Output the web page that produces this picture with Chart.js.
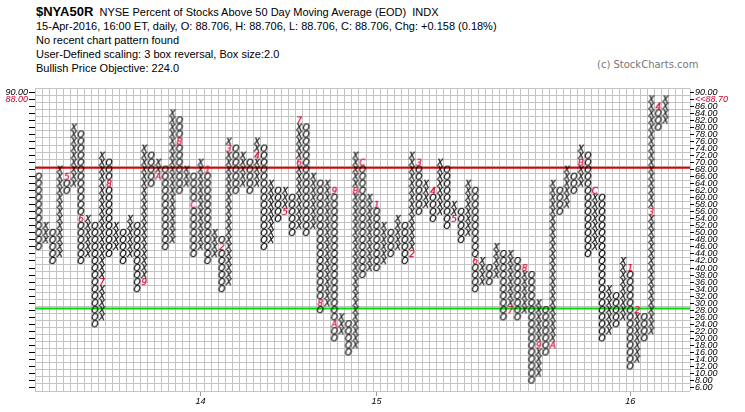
<!DOCTYPE html>
<html>
<head>
<meta charset="utf-8">
<script src="https://cdn.jsdelivr.net/npm/chart.js@4.4.1/dist/chart.umd.min.js"></script>
<style>
  html, body { margin: 0; padding: 0; background: #fff; }
  #wrap { position: relative; width: 745px; height: 412px; overflow: hidden; }
  #pf { position: absolute; left: 0; top: 0; }
  .hd { position: absolute; left: 36px; font-family: "Liberation Sans", Arial, sans-serif; font-size: 11px; color: #000; white-space: nowrap; }
  .cr { position: absolute; left: 597px; top: 59px; font-family: "DejaVu Sans", sans-serif; font-size: 10px; color: #777; }
</style>
</head>
<body>
<div id="wrap">
  <div class="hd" style="top:4px"><b style="font-size:13px">$NYA50R</b>&nbsp; NYSE Percent of Stocks Above 50 Day Moving Average (EOD)&nbsp;&nbsp;INDX</div>
  <div class="hd" style="top:20px">15-Apr-2016, 16:00 ET, daily, O: 88.706, H: 88.706, L: 88.706, C: 88.706, Chg: +0.158 (0.18%)</div>
  <div class="hd" style="top:34px">No recent chart pattern found</div>
  <div class="hd" style="top:48px">User-Defined scaling: 3 box reversal, Box size:2.0</div>
  <div class="hd" style="top:62px">Bullish Price Objective: 224.0</div>
  <div class="cr">(c) StockCharts.com</div>
  <canvas id="pf" width="745" height="412"></canvas>
</div>
<script>
// point & figure columns, box size 2, columns alternate starting with O
const boxSize   = 2;
const firstType = 'O';
const colHigh = [
  66, 52, 50, 68, 66, 80, 78, 54, 52, 72, 70, 52, 50, 54, 52, 74, 72, 70, 68, 84,
  82, 68, 66, 70, 68, 50, 48, 76, 74, 72, 70, 76, 74, 64, 62, 62, 60, 82, 80, 66,
  64, 64, 62, 26, 24, 72, 70, 60, 58, 52, 50, 54, 52, 72, 70, 64, 62, 70, 68, 58,
  56, 64, 62, 42, 40, 46, 44, 44, 42, 40, 38, 30, 28, 64, 62, 68, 66, 74, 72, 62,
  60, 34, 32, 42, 40, 28, 26, 88, 86, 88
];
const colLow = [
  46, 48, 42, 44, 62, 64, 42, 44, 24, 26, 44, 46, 42, 44, 34, 36, 64, 66, 46, 48,
  62, 64, 44, 46, 42, 44, 34, 36, 62, 64, 62, 64, 46, 48, 54, 56, 50, 52, 50, 52,
  28, 30, 20, 22, 16, 18, 38, 40, 40, 42, 44, 46, 42, 44, 56, 58, 54, 56, 52, 54,
  48, 50, 34, 36, 36, 38, 26, 28, 26, 28,  8, 10, 16, 18, 56, 58, 62, 64, 44, 46,
  20, 22, 24, 26, 12, 14, 20, 22, 80, 82
];

// month markers that replace a box (col, price, text)
const markCol   = [4, 6, 9, 10, 15, 17, 20, 22,
                   24, 26, 27, 31, 35, 37, 37, 40, 42, 42, 45, 46,
                   48, 53, 54, 56, 59, 62, 67, 69, 71, 73, 77, 79,
                   84, 85, 87, 88];
const markPrice = [66, 54, 36, 64, 36, 66, 76, 58,
                   68, 46, 74, 72, 56, 70, 82, 30, 62, 24, 62, 70,
                   58, 44, 70, 62, 54, 42, 28, 40, 18, 18, 70, 62,
                   40, 28, 56, 86];
const markText  = ['5', '6', '7', '8', '9', 'A', 'B', 'C',
                   '1', '2', '3', '4', '5', '6', '7', '8', '9', 'A', 'B', 'C',
                   '1', '2', '3', '4', '5', '6', '7', '8', '9', 'A', 'B', 'C',
                   '1', '2', '3', '4'];

const yearTicks  = [23, 48, 84];
const yearLabels = ['14', '15', '16'];

const refLevels = [68.5, 28.5];
const refColors = ['#e00000', '#00dd00'];

const lastClose = '<<88.70';
const nCols = 93;

const FONT = '"DejaVu Sans", Verdana, sans-serif';

// small italic glyph used as a point style
function glyph(ch, color) {
  const c = document.createElement('canvas');
  c.width = 10; c.height = 10;
  const g = c.getContext('2d');
  g.font = 'italic 9px ' + FONT;
  g.fillStyle = color;
  g.strokeStyle = color;
  g.lineWidth = 0.25;
  g.textAlign = 'center';
  g.textBaseline = 'middle';
  g.fillText(ch, 5, 5.5);
  g.strokeText(ch, 5, 5.5);
  return c;
}

const marked = new Set(markCol.map((c, i) => c + ':' + markPrice[i]));
const xPts = [], oPts = [];
colLow.forEach((lo, i) => {
  const isO = (i % 2 === 0) === (firstType === 'O');
  for (let p = lo; p <= colHigh[i]; p += boxSize) {
    if (marked.has(i + ':' + p)) continue;
    (isO ? oPts : xPts).push({ x: i, y: p });
  }
});
const markPts = markCol.map((c, i) => ({ x: c, y: markPrice[i] }));
const markStyles = markText.map(t => glyph(t, '#d0002e'));

const evens = [];
for (let v = 6; v <= 90; v += 2) evens.push(v);
const odds = [];
for (let v = 5; v <= 91; v += 2) odds.push(v);
const bounds = [];
for (let i = 0; i <= nCols; i++) bounds.push(i - 0.5);

const refSets = refLevels.map((lv, i) => ({
  type: 'line',
  data: [{ x: -0.5, y: lv }, { x: nCols - 0.5, y: lv }],
  borderColor: refColors[i], borderWidth: 2, pointRadius: 0, xAxisID: 'x', yAxisID: 'yr', order: 5
}));

const tickFont = { family: '"Liberation Sans", Arial, sans-serif', size: 9, style: 'italic' };

new Chart(document.getElementById('pf'), {
  type: 'scatter',
  data: {
    datasets: [
      ...refSets,
      { data: xPts, pointStyle: glyph('X', '#000'), pointRadius: 4, xAxisID: 'x', yAxisID: 'yr', order: 1 },
      { data: oPts, pointStyle: glyph('O', '#000'), pointRadius: 4, xAxisID: 'x', yAxisID: 'yr', order: 1 },
      { data: markPts, pointStyle: markStyles, pointRadius: 4, xAxisID: 'x', yAxisID: 'yr', order: 1 },
    ]
  },
  options: {
    responsive: false, animation: false, events: [],
    layout: { padding: { top: 88.8, left: 0, right: 0, bottom: 0 } },
    plugins: { legend: { display: false }, tooltip: { enabled: false } },
    scales: {
      x: {
        type: 'linear', min: -0.5, max: nCols - 0.5, position: 'bottom',
        afterBuildTicks: a => { a.ticks = yearTicks.map(v => ({ value: v })); },
        afterFit: a => { a.height = 21; },
        ticks: { callback: v => yearLabels[yearTicks.indexOf(v)], font: tickFont, color: '#000', maxRotation: 0, autoSkip: false, padding: 0 },
        grid: { drawOnChartArea: false, drawTicks: true, tickLength: 5, color: '#999' },
        border: { display: false }
      },
      xg: {
        type: 'linear', min: -0.5, max: nCols - 0.5, position: 'bottom',
        afterBuildTicks: a => { a.ticks = bounds.map(v => ({ value: v })); },
        afterFit: a => { a.height = 0; },
        ticks: { display: false },
        grid: { color: '#c4c4c4', lineWidth: 1, drawTicks: false },
        border: { display: false }
      },
      yr: {
        type: 'linear', min: 5, max: 91, position: 'right',
        afterBuildTicks: a => { a.ticks = evens.map(v => ({ value: v })); },
        afterFit: a => { a.width = 55; },
        ticks: {
          callback: v => v === 88 ? lastClose : v.toFixed(2),
          color: c => c.tick && c.tick.value === 88 ? '#d0002e' : '#000',
          font: tickFont, padding: 1, autoSkip: false
        },
        grid: { drawOnChartArea: false, drawTicks: true, tickLength: 4, color: '#000' },
        border: { display: false }
      },
      yl: {
        type: 'linear', min: 5, max: 91, position: 'left',
        afterBuildTicks: a => { a.ticks = evens.map(v => ({ value: v })); },
        afterFit: a => { a.width = 35; },
        ticks: {
          callback: v => v === 90 ? '90.00' : v === 88 ? '88.00' : '',
          color: c => c.tick && c.tick.value === 88 ? '#d0002e' : '#000',
          font: tickFont, padding: 1, autoSkip: false
        },
        grid: { drawOnChartArea: false, drawTicks: true, tickLength: 6, color: '#000' },
        border: { display: false }
      },
      yg: {
        type: 'linear', min: 5, max: 91, position: 'left',
        afterBuildTicks: a => { a.ticks = odds.map(v => ({ value: v })); },
        afterFit: a => { a.width = 0; },
        ticks: { display: false },
        grid: { color: '#c4c4c4', lineWidth: 1, drawTicks: false },
        border: { display: false }
      }
    }
  }
});
</script>
</body>
</html>
